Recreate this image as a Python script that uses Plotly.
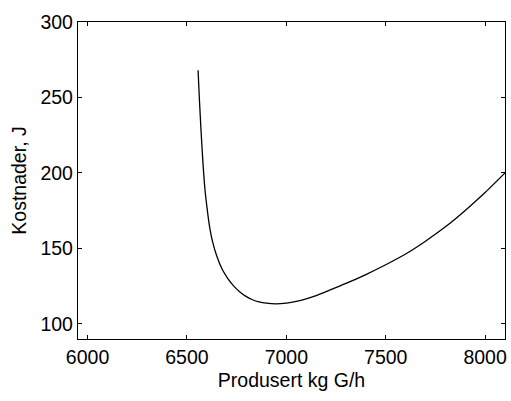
import plotly.graph_objects as go

produsert = [6556, 6563, 6571, 6580, 6590, 6600, 6612, 6628, 6650, 6678, 6705, 6736,
             6765, 6795, 6830, 6862, 6900, 6950, 7000, 7050, 7100, 7150, 7200, 7300,
             7400, 7500, 7600, 7700, 7800, 7900, 8000, 8100]
kostnader = [268, 248, 228, 208, 190, 178, 166, 155, 145, 136, 130.2, 125.0,
             121.3, 118.4, 116.0, 114.6, 113.7, 113.3, 113.8, 114.9, 116.6, 118.8, 121.4, 126.8,
             132.7, 139.2, 146.3, 154.8, 164.3, 175.2, 187, 200]

x_ticks = [6000, 6500, 7000, 7500, 8000]
y_ticks = [100, 150, 200, 250, 300]

fig = go.Figure()
fig.add_trace(go.Scatter(x=produsert, y=kostnader, mode="lines",
                         line=dict(color="black", width=1.3, shape="spline", smoothing=0.6),
                         showlegend=False))

font = dict(family="Arial, Liberation Sans, sans-serif", size=19.5, color="black")
axis_common = dict(showline=True, linecolor="black", linewidth=1.3, mirror="ticks",
                   ticks="inside", ticklen=4, tickwidth=1, tickcolor="black",
                   showgrid=False, zeroline=False, tickfont=font)

fig.update_layout(
    width=511, height=401,
    margin=dict(l=78, r=4, t=22, b=62),
    paper_bgcolor="white", plot_bgcolor="white",
    font=font,
    xaxis=dict(range=[5952, 8100], tickvals=x_ticks, ticktext=[str(v) for v in x_ticks],
               title=dict(text="Produsert kg G/h", font=font, standoff=6), **axis_common),
    yaxis=dict(range=[90, 300], tickvals=y_ticks, ticktext=[str(v) for v in y_ticks],
               title=dict(text="Kostnader, J", font=font, standoff=8), **axis_common),
)

fig.write_html("out.html")
